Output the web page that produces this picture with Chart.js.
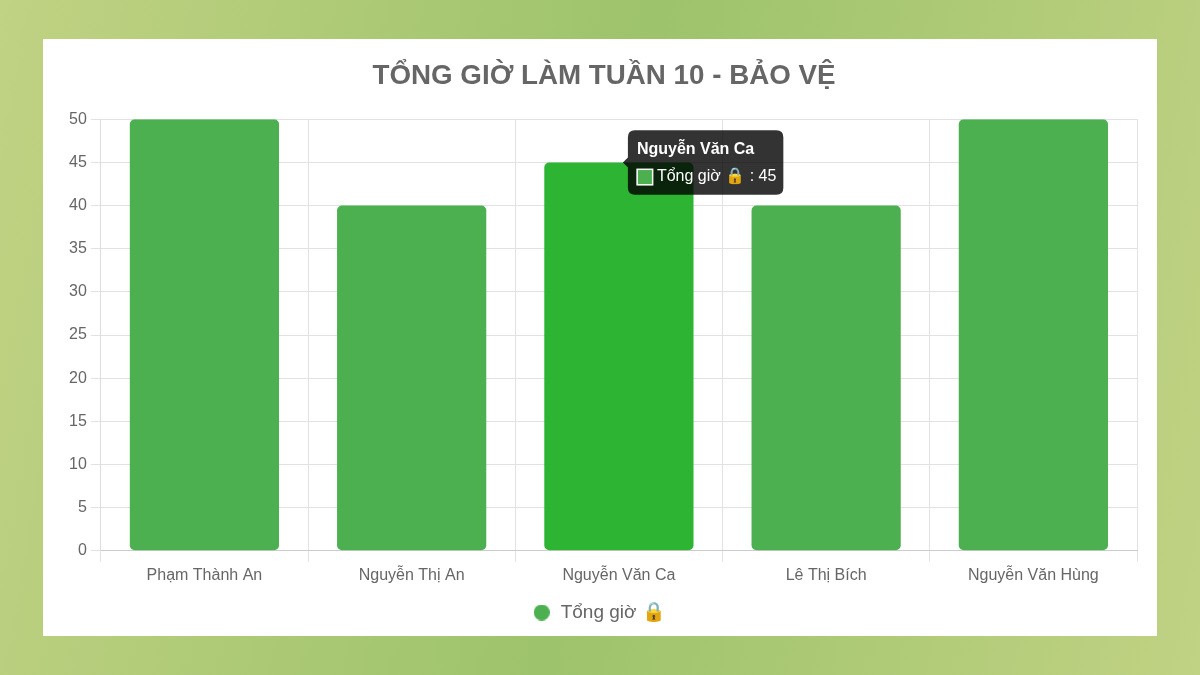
<!DOCTYPE html>
<html>
<head>
<meta charset="utf-8">
<title>Tổng giờ làm</title>
<script src="https://cdn.jsdelivr.net/npm/chart.js@4"></script>
<style>
  html, body { margin: 0; height: 100%; }
  body {
    width: 1200px; height: 675px; position: relative; overflow: hidden;
    background: linear-gradient(100deg, #c0d283 0%, #9dc36c 50%, #c0d283 100%);
  }
  #card { position: absolute; left: 43px; top: 39px; width: 1114px; height: 597px; background: #fff; }
  #wrap { position: absolute; left: 64px; top: 39px; width: 1080px; height: 597px; }
</style>
</head>
<body>
<div id="card"></div>
<div id="wrap"><canvas id="hoursChart"></canvas></div>
<script>
const names = ["Phạm Thành An", "Nguyễn Thị An", "Nguyễn Văn Ca", "Lê Thị Bích", "Nguyễn Văn Hùng"];
const hours = [50, 40, 45, 40, 50];
const seriesName = "Tổng giờ 🔒";
const chartTitle = "TỔNG GIỜ LÀM TUẦN 10 - BẢO VỆ";
const hoveredIndex = 2;

Chart.defaults.font.family = '"Liberation Sans", Arial, sans-serif';
Chart.defaults.color = "#666";

// legend dot, smaller than the box chart.js reserves for it
const dot = document.createElement("canvas");
dot.width = 16;
dot.height = 16;
const dotCtx = dot.getContext("2d");
dotCtx.fillStyle = "#4caf50";
dotCtx.arc(8, 8, 8, 0, Math.PI * 2);
dotCtx.fill();

// title and legend are not quite centred on the same point in the original
const boxNudge = {
  id: "boxNudge",
  afterLayout(chart) {
    chart.titleBlock.left += 3;
    chart.titleBlock.right += 3;
    chart.legend.left -= 2;
    chart.legend.right -= 2;
  }
};

const ctx = document.getElementById("hoursChart").getContext("2d");
const chart = new Chart(ctx, {
  type: "bar",
  data: {
    labels: names,
    datasets: [{
      label: seriesName,
      data: hours,
      backgroundColor: "#4caf50",
      hoverBackgroundColor: "#2db432",
      borderRadius: 5,
      borderSkipped: false
    }]
  },
  plugins: [boxNudge],
  options: {
    responsive: true,
    maintainAspectRatio: false,
    animation: false,
    layout: { padding: { top: 0, bottom: 4, left: 1, right: 7 } },
    plugins: {
      title: {
        display: true,
        text: chartTitle,
        color: "#666",
        font: { size: 27.75, weight: "bold" },
        padding: { top: 21, bottom: 26 }
      },
      legend: {
        position: "bottom",
        labels: {
          usePointStyle: true,
          pointStyle: dot,
          boxHeight: 19,
          padding: 14,
          color: "#666",
          font: { size: 19 }
        }
      },
      tooltip: {
        backgroundColor: "rgba(0,0,0,0.8)",
        titleFont: { size: 16, weight: "bold" },
        bodyFont: { size: 16 },
        titleMarginBottom: 8,
        padding: { left: 9, right: 7, top: 10, bottom: 8 },
        caretPadding: 4,
        cornerRadius: 7,
        boxPadding: 2,
        callbacks: {
          label: item => item.dataset.label + " : " + item.formattedValue,
          labelColor: () => ({ borderColor: "#fff", backgroundColor: "#4caf50", borderWidth: 1 })
        }
      }
    },
    scales: {
      x: {
        grid: { color: "#e2e2e2", tickLength: 11 },
        border: { color: "#ccc" },
        ticks: { font: { size: 16 }, color: "#666", padding: 4 }
      },
      y: {
        min: 0,
        max: 50,
        grid: { color: "#e2e2e2", tickLength: 10 },
        border: { color: "#ddd" },
        ticks: { stepSize: 5, font: { size: 16 }, color: "#666", padding: 4 }
      }
    }
  }
});

// keep the third bar hovered with its tooltip open
const active = [{ datasetIndex: 0, index: hoveredIndex }];
chart.setActiveElements(active);
chart.tooltip.setActiveElements(active, { x: 0, y: 0 });
chart.update();
</script>
</body>
</html>
